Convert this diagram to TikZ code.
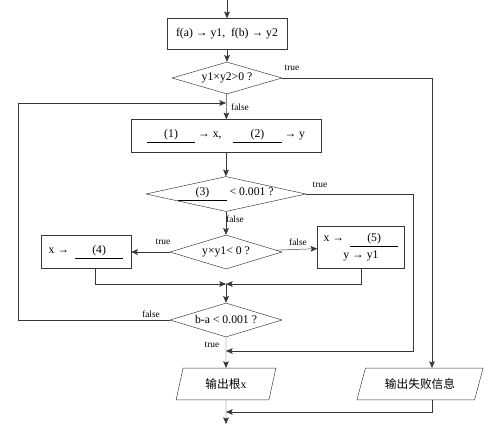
\documentclass[tikz,border=0pt]{standalone}
\usepackage{fontspec}
\setmainfont{Liberation Serif}
\newfontfamily\cjk{Noto Sans CJK SC}
\usetikzlibrary{arrows.meta,shapes.geometric}

\newcommand{\blank}[1]{\underline{\makebox[1.45cm]{(#1)}}}

\begin{document}
\begin{tikzpicture}[x=0.03cm, y=-0.03cm, >=Stealth]

\definecolor{linegray}{RGB}{55, 55, 55}

\tikzset{
  procbox/.style={draw=linegray, thin, rectangle, inner sep=1pt},
  decision/.style={draw=linegray, thin, diamond, inner sep=0pt},
  iobox/.style={draw=linegray, thin, trapezium, trapezium stretches=true, inner sep=1pt},
  link/.style={draw=linegray, thin},
  flow/.style={link, -{Stealth[length=2mm, width=1.7mm, inset=0.4mm]}},
  tag/.style={font=\footnotesize, inner sep=1pt}
}

\useasboundingbox (0,0) rectangle (495,436);

% main column
\coordinate (entry) at (227,0);
\node[procbox, minimum width=3.6cm, minimum height=0.93cm] (init) at (227,34) {f(a) → y1,\ \ f(b) → y2};
\node[decision, aspect=3.4, minimum width=3.3cm, minimum height=0.96cm] (chk) at (227,78) {y1×y2>0 ?};
\node[procbox, minimum width=5.7cm, minimum height=0.99cm] (mid) at (226,136) {\blank{1} → x,\quad \blank{2} → y};
\node[decision, aspect=4.6, minimum width=4.8cm, minimum height=1.05cm] (conv) at (226,194) {\blank{3} < 0.001 ?};
\node[decision, aspect=3.3, minimum width=3.36cm, minimum height=1.02cm] (sign) at (226,252) {y×y1< 0 ?};
\node[procbox, minimum width=2.7cm, minimum height=0.99cm] (left) at (86,252) {x →\ \ \blank{4}};
\node[procbox, minimum width=2.61cm, minimum height=1.26cm, align=center] (right) at (361,247) {x →\ \ \blank{5}\\[2pt] y → y1};
\coordinate (join) at (226,284);
\node[decision, aspect=3.3, minimum width=3.36cm, minimum height=1.02cm] (stop) at (226,320) {b-a < 0.001 ?};
\node[iobox, trapezium left angle=75, trapezium right angle=105, minimum width=3.0cm, minimum height=0.95cm] (root) at (226,384) {{\cjk 输出根}x};
\node[iobox, trapezium left angle=67, trapezium right angle=113, minimum width=3.8cm, minimum height=0.95cm] (fail) at (420,384) {\cjk 输出失败信息};
\coordinate (exit) at (226,424);

% bends
\coordinate (c1) at (432,78);
\coordinate (c2) at (413,194);
\coordinate (loop) at (18,103);
\coordinate (back) at (226,103);
\coordinate (rejoin) at (226,351);
\coordinate (end) at (226,412);

\draw[flow] (entry) -- (init);
\draw[flow] (init) -- (chk);
\draw[flow] (chk) -- (mid);
\draw[flow] (chk.east) -- (c1) -- (c1 |- fail.north);
\draw[flow] (stop.west) -| (loop) -- (back);
\draw[flow] (mid) -- (conv);
\draw[flow] (conv) -- (sign);
\draw[flow] (conv.east) -- (c2) |- (rejoin);
\draw[flow] (sign) -- (left);
\draw[flow] (sign) -- (right);
\draw[flow] ([xshift=0.27cm]left.south) |- (join);
\draw[flow] (right.south) |- (join);
\draw[flow] (join) -- (stop);
\draw[flow] (stop) -- (root);
\draw[flow] (root) -- (exit);
\draw[flow] (fail.south -| c1) |- (end);

% branch labels
\node[tag] (t1) at (292,68) {true};
\node[tag] (f1) at (240,107) {false};
\node[tag] (t2) at (320,185) {true};
\node[tag] (f2) at (235,219) {false};
\node[tag] (t3) at (163,242) {true};
\node[tag] (f3) at (298,242) {false};
\node[tag] (f4) at (151,314) {false};
\node[tag] (t4) at (212,345) {true};

\end{tikzpicture}
\end{document}
